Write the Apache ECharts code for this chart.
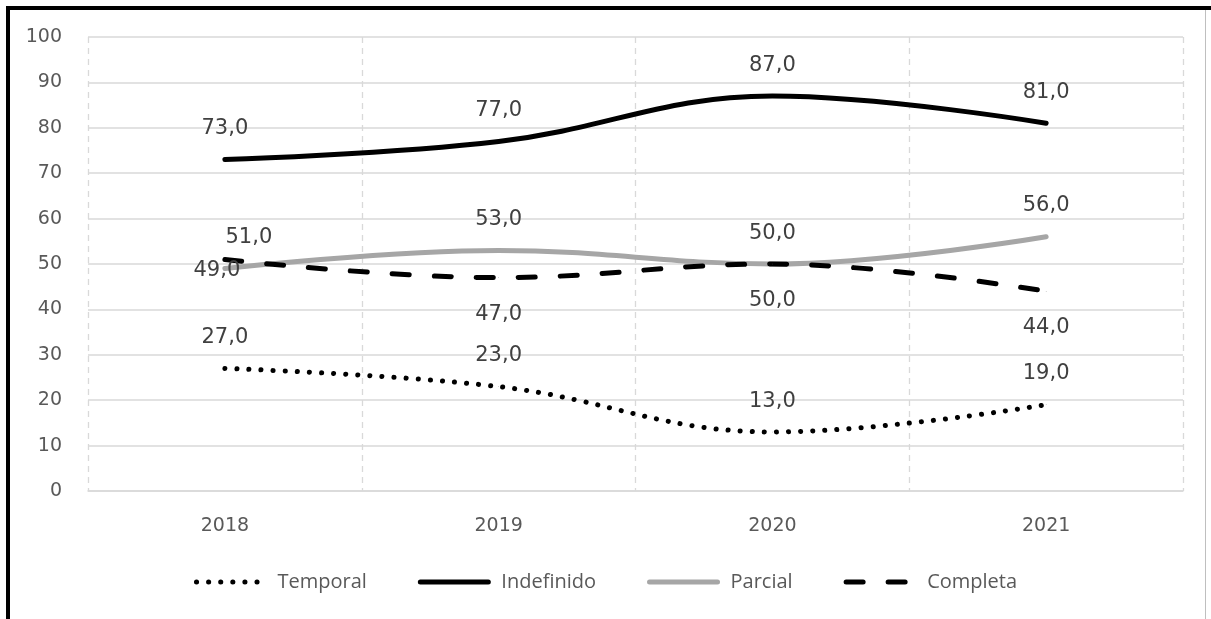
<!DOCTYPE html>
<html>
<head>
<meta charset="utf-8">
<script src="https://cdn.jsdelivr.net/npm/echarts@6/dist/echarts.min.js"></script>
<style>
  html, body { margin: 0; padding: 0; background: #fff; }
  #wrap { position: relative; width: 1211px; height: 619px; overflow: hidden; }
  #chart { position: absolute; left: 0; top: 0; width: 1211px; height: 619px; }
  .edge { position: absolute; pointer-events: none; }
</style>
</head>
<body>
<div id="wrap">
  <div id="chart"></div>
  <div class="edge" style="left:6px;top:6px;width:1205px;height:4px;background:#000"></div>
  <div class="edge" style="left:6px;top:6px;width:4px;height:613px;background:#000"></div>
  <div class="edge" style="left:1205px;top:10px;width:1px;height:609px;background:#bfbfbf"></div>
</div>
<script>
// Years on the category axis
const years = ['2018', '2019', '2020', '2021'];
// Series values (percent)
const temporal = [27, 23, 13, 19];
const indefinido = [73, 77, 87, 81];
const parcial = [49, 53, 50, 56];
const completa = [51, 47, 50, 44];
// Value axis range
const yMin = 0, yMax = 100, yStep = 10;

const TEXT_FONT = 'Open Sans';
const NUM_FONT = 'DejaVu Sans';
const fmt = p => Number(p.value).toFixed(1).replace('.', ',');

function labelCfg(extra) {
  return Object.assign({
    show: true, position: 'top', distance: 20, formatter: fmt,
    color: '#404040', fontSize: 21, fontFamily: NUM_FONT, opacity: 1
  }, extra || {});
}

function points(values, perPoint) {
  return values.map((v, i) => (perPoint && perPoint[i]) ? { value: v, label: perPoint[i] } : v);
}

// Lines carry a tiny symbol hidden under the stroke so the value labels can attach to it
function lineSeries(name, values, lineStyle, label, perPoint) {
  return {
    name, type: 'line', smooth: 0.4,
    symbol: 'circle', symbolSize: 0.5, showSymbol: true,
    data: points(values, perPoint),
    lineStyle: Object.assign({ cap: 'round' }, lineStyle),
    itemStyle: { color: lineStyle.color },
    label
  };
}

const chart = echarts.init(document.getElementById('chart'), null, { renderer: 'canvas' });
chart.setOption({
  animation: false,
  backgroundColor: '#fff',
  textStyle: { fontFamily: TEXT_FONT },
  grid: { left: 88, right: 28, top: 37, bottom: 128, containLabel: false },
  legend: {
    top: 567, left: 'center', itemWidth: 68, itemHeight: 14, itemGap: 51,
    textStyle: { color: '#595959', fontSize: 20, fontFamily: TEXT_FONT, padding: [0, 0, 0, 8] },
    itemStyle: { opacity: 0 },
    lineStyle: { width: 'inherit' },
    data: ['Temporal', 'Indefinido', 'Parcial', 'Completa']
  },
  xAxis: {
    type: 'category', data: years, boundaryGap: true,
    axisLine: { show: true, lineStyle: { color: '#d9d9d9', width: 1.5 } },
    axisTick: { show: false },
    axisLabel: { color: '#595959', fontSize: 19, margin: 26, fontFamily: NUM_FONT },
    splitLine: { show: true, lineStyle: { color: '#d9d9d9', type: [6, 5], width: 1.3 } }
  },
  yAxis: {
    type: 'value', min: yMin, max: yMax, interval: yStep,
    axisLine: { show: false }, axisTick: { show: false },
    axisLabel: { color: '#595959', fontSize: 19, margin: 26, fontFamily: NUM_FONT },
    splitLine: { show: true, lineStyle: { color: '#d9d9d9', width: 1.5 } }
  },
  series: [
    lineSeries('Temporal', temporal,
      { color: '#000', width: 5, type: [0.1, 12] }, labelCfg()),
    lineSeries('Indefinido', indefinido,
      { color: '#000', width: 5 }, labelCfg()),
    lineSeries('Parcial', parcial,
      { color: '#a6a6a6', width: 5 }, labelCfg(),
      [{ position: 'inside', offset: [-8, 2] }]),
    lineSeries('Completa', completa,
      { color: '#000', width: 5, type: [17, 25] }, labelCfg({ position: 'bottom', distance: 26 }),
      [{ position: 'inside', offset: [24, -22] }])
  ]
});
</script>
</body>
</html>
